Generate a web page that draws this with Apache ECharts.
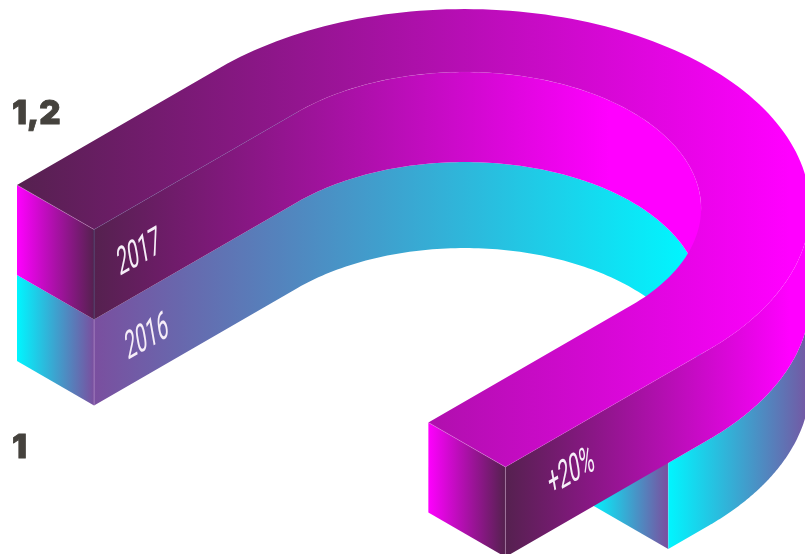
<!DOCTYPE html>
<html><head><meta charset="utf-8">
<style>html,body{margin:0;padding:0;background:#fff}#c{width:805px;height:554px}</style>
<script src="https://cdn.jsdelivr.net/npm/echarts@6/dist/echarts.min.js"></script>
</head><body><div id="c"></div>
<script>
const years = ['2016', '2017'];
const values = [1, 1.2];
const tickValues = [1, 1.2];
const changeLabel = '+20%';

// isometric plan of the horseshoe
const origin = [17, 185];
const straight = 235, outerR = 282, innerR = 193;
const layerH = 90, lowerH = 86;
const pathR = 209.5;
const DARK = '#55214f', MAG = '#ff00ff', CY = '#00f6ff', PUR = '#7a4f9f';

function iso(u, v, z) {
  return [origin[0] + (u + v) * 0.866, origin[1] + (u - v) * 0.5 + z];
}
function grad(x1, x2, stops) {
  return { type: 'linear', global: true, x: x1, y: 0, x2: x2, y2: 0,
    colorStops: stops.map((c, i) => ({ offset: i / (stops.length - 1), color: c })) };
}
const uc = outerR;
function arc(r, a0, a1, z) {
  const pts = [], n = 120;
  for (let i = 0; i <= n; i++) {
    const t = (a0 + (a1 - a0) * i / n) * Math.PI / 180;
    pts.push(iso(uc - r * Math.cos(t), straight + r * Math.sin(t), z));
  }
  return pts;
}
function innerEdge(z) { return [iso(uc - innerR, 0, z)].concat(arc(innerR, 0, 135, z)); }
function outerEdge(vEnd, z) { return [iso(uc + outerR, vEnd, z)].concat(arc(outerR, 180, 135, z)); }
function band(edgeTop, edgeBottom) { return edgeTop.concat(edgeBottom.slice().reverse()); }
function poly(points, fill) {
  return { type: 'polygon', shape: { points }, style: { fill, stroke: null }, silent: true };
}
function line(points, color, w) {
  return { type: 'polyline', shape: { points }, style: { stroke: color, lineWidth: w || 0.6, fill: null }, silent: true };
}
function label(text, p, fs) {
  return { type: 'text', x: p[0], y: p[1], rotation: Math.PI / 6, scaleX: 0.6, scaleY: 1, skewX: -Math.PI / 9,
    style: { text, fill: '#f6eef8', font: '400 ' + fs + 'px Roboto', align: 'center', verticalAlign: 'middle' }, silent: true };
}

function renderItem(params, api) {
  const val = api.value(1);
  const maxVal = Math.max.apply(null, values);
  const children = [];
  if (val < maxVal) {
    const total = 2 * straight + Math.PI * pathR;
    const rest = straight - (total * val / maxVal - straight - Math.PI * pathR);
    const z1 = layerH, z2 = layerH + lowerH;
    children.push(poly(band(innerEdge(z1), innerEdge(z2)), grad(94, 690, [PUR, CY])));
    children.push(poly([iso(0, 0, z1), iso(uc - innerR, 0, z1), iso(uc - innerR, 0, z2), iso(0, 0, z2)], grad(17, 94, [CY, PUR])));
    children.push(poly([iso(uc + innerR, rest, z1), iso(uc + outerR, rest, z1), iso(uc + outerR, rest, z2), iso(uc + innerR, rest, z2)], grad(591, 668, [CY, PUR])));
    children.push(poly(band(outerEdge(rest, z1), outerEdge(rest, z2)), grad(668, 815, [CY, PUR])));
    children.push(line([iso(uc - innerR, 0, z1), iso(uc - innerR, 0, z2)], 'rgba(230,210,245,0.5)'));
    children.push(line([iso(uc + outerR, rest, z1), iso(uc + outerR, rest, z2)], 'rgba(230,210,245,0.3)'));
    children.push(label(years[params.dataIndex], iso(uc - innerR, 0, 0).map((c, i) => c + [53, 109][i]), 36));
  } else {
    const z1 = 0, z2 = layerH;
    children.push(poly(band(innerEdge(z1), innerEdge(z2)), grad(94, 610, [DARK, MAG])));
    children.push(poly([iso(0, 0, z1), iso(uc - innerR, 0, z1), iso(uc - innerR, 0, z2), iso(0, 0, z2)], grad(17, 94, [MAG, DARK])));
    children.push(poly(band(outerEdge(0, z1), outerEdge(0, z2)), grad(505, 790, [DARK, MAG])));
    children.push(poly([iso(uc + innerR, 0, z1), iso(uc + outerR, 0, z1), iso(uc + outerR, 0, z2), iso(uc + innerR, 0, z2)], grad(428, 505, [MAG, DARK])));
    children.push(poly(
      [iso(0, 0, 0)].concat(arc(outerR, 0, 180, 0), [iso(uc + outerR, 0, 0), iso(uc + innerR, 0, 0)],
        arc(innerR, 180, 0, 0), [iso(uc - innerR, 0, 0)]),
      grad(17, 790, [DARK, MAG])));
    children.push(line([iso(0, 0, 0), iso(uc - innerR, 0, 0)], 'rgba(240,180,240,0.55)'));
    children.push(line([iso(uc - innerR, 0, 0), iso(uc - innerR, 0, z2)], 'rgba(60,110,150,0.6)'));
    children.push(line([iso(uc - innerR, 0, 0), iso(uc - innerR, straight, 0)], 'rgba(90,110,170,0.4)'));
    children.push(line(arc(innerR, 0, 135, 0), 'rgba(255,170,255,0.12)'));
    children.push(line([iso(uc + innerR, 0, 0), iso(uc + outerR, 0, 0), iso(uc + outerR, 0, z2)], 'rgba(240,190,240,0.5)'));
    children.push(line([iso(uc + outerR, 0, 0), iso(uc + outerR, straight, 0)], 'rgba(240,170,240,0.22)'));
    children.push(label(years[params.dataIndex], iso(uc - innerR, 0, 0).map((c, i) => c + [45, 25][i]), 36));
    children.push(label(changeLabel, iso(uc + outerR, 0, 0).map((c, i) => c + [66, 6][i]), 36));
  }
  return { type: 'group', children };
}

const chart = echarts.init(document.getElementById('c'), null, { renderer: 'canvas' });
chart.setOption({
  animation: false,
  backgroundColor: '#fff',
  grid: { left: 60, right: 0, top: 114, bottom: 106 },
  xAxis: { type: 'category', data: years, show: false },
  yAxis: {
    type: 'value', min: tickValues[0], max: tickValues[1], interval: 0.2,
    axisLine: { show: false }, axisTick: { show: false }, splitLine: { show: false },
    axisLabel: {
      align: 'left', margin: 48, color: '#45423d',
      fontFamily: 'Inter', fontWeight: 900, fontSize: 33,
      textBorderColor: '#45423d', textBorderWidth: 0.8,
      formatter: v => String(+v.toFixed(1)).replace('.', ',')
    }
  },
  series: [{
    type: 'custom', clip: false, coordinateSystem: 'cartesian2d',
    renderItem, data: years.map((y, i) => [y, values[i]]),
    encode: { x: 0, y: 1 }
  }]
});
</script></body></html>
